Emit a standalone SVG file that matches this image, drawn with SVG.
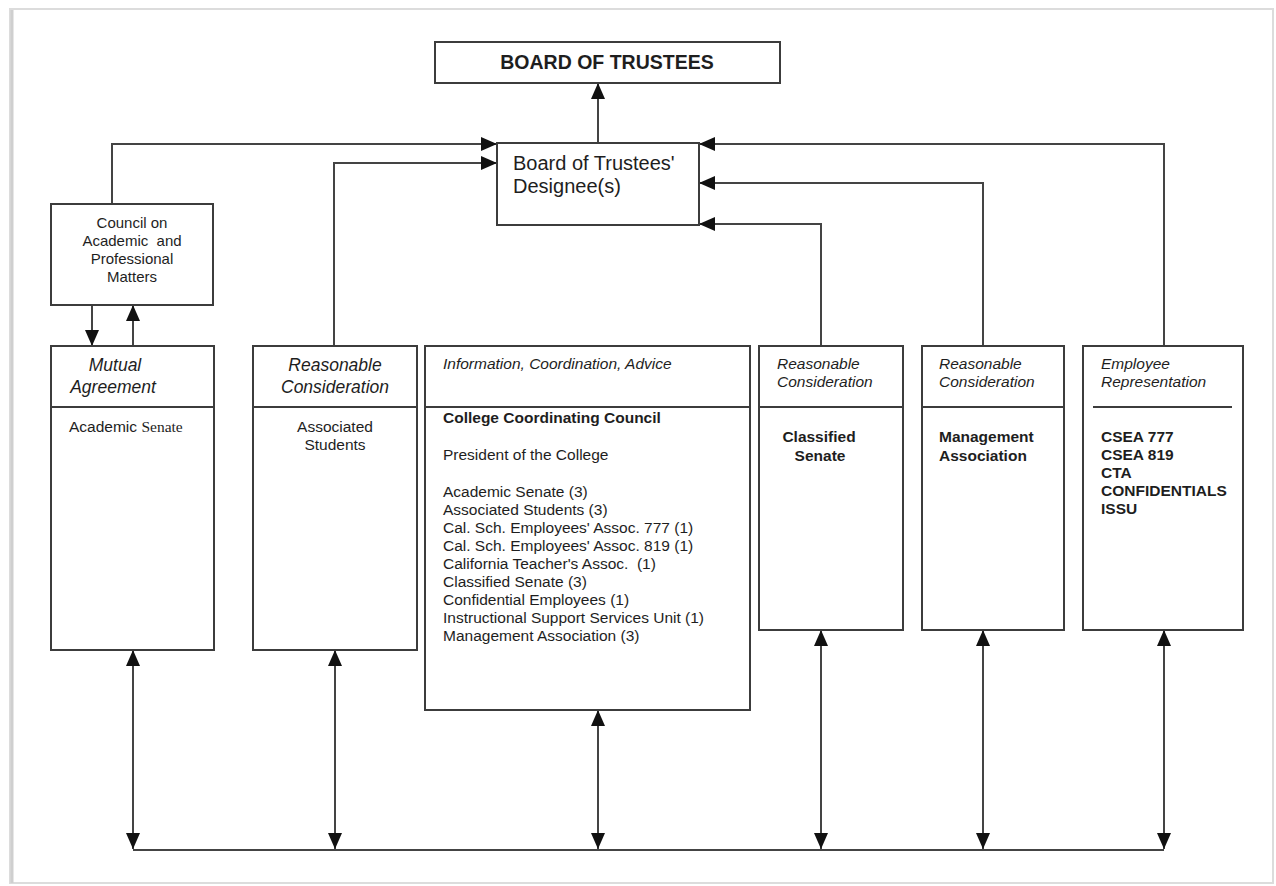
<svg xmlns="http://www.w3.org/2000/svg" width="1276" height="886" viewBox="0 0 1276 886">
<defs>
<marker id="ah" viewBox="0 0 16 14" refX="16" refY="7" markerWidth="16" markerHeight="14" markerUnits="userSpaceOnUse" orient="auto-start-reverse">
<path d="M0,0 L16,7 L0,14 z" fill="#111"/>
</marker>
<style>
.box{fill:#fff;stroke:#3c3c3c;stroke-width:2}
.div{stroke:#3c3c3c;stroke-width:2;fill:none}
.con{stroke:#444;stroke-width:2;fill:none}
.arr{marker-end:url(#ah)}
.both{marker-start:url(#ah);marker-end:url(#ah)}
text{font-family:"Liberation Sans",Arial,sans-serif;fill:#1e1e1e}
.t{font-size:15.5px}
.b{font-size:15.5px;font-weight:bold}
.hL{font-size:17.5px;font-style:italic}
.hR{font-size:15.5px;font-style:italic}
.c{text-anchor:middle}
</style>
</defs>
<rect x="0" y="0" width="1276" height="886" fill="#fff"/>
<rect x="10" y="9" width="1263" height="874" fill="none" stroke="#dcdcdc" stroke-width="2"/>
<line x1="12" y1="10" x2="12" y2="883" stroke="#cfcfcf" stroke-width="3"/>

<g id="connectors">
<path class="con arr" d="M598,143 V83"/>
<path class="con arr" d="M112,204 V144 H497"/>
<path class="con arr" d="M334,346 V163 H497"/>
<path class="con arr" d="M821,346 V224 H699"/>
<path class="con arr" d="M983,346 V183 H699"/>
<path class="con arr" d="M1164,346 V144 H699"/>
<path class="con arr" d="M92,305 V346"/>
<path class="con arr" d="M133,346 V305"/>
<path class="con" d="M133,850 H1164"/>
<path class="con both" d="M133,650 V849"/>
<path class="con both" d="M335,650 V849"/>
<path class="con both" d="M598,710 V849"/>
<path class="con both" d="M821,630 V849"/>
<path class="con both" d="M983,630 V849"/>
<path class="con both" d="M1164,630 V849"/>
</g>

<g id="board">
<rect class="box" x="435" y="42" width="345" height="41"/>
<text x="607" y="69" class="c" style="font-size:19.5px;font-weight:bold">BOARD OF TRUSTEES</text>
</g>

<g id="designee">
<rect class="box" x="497" y="143" width="202" height="82"/>
<text x="513" y="170" style="font-size:20px">Board of Trustees'</text>
<text x="513" y="193" style="font-size:20px">Designee(s)</text>
</g>

<g id="council">
<rect class="box" x="51" y="204" width="162" height="101"/>
<text class="c" x="132" y="228" style="font-size:15px">Council on</text>
<text class="c" x="132" y="246" style="font-size:15px" xml:space="preserve">Academic  and</text>
<text class="c" x="132" y="264" style="font-size:15px">Professional</text>
<text class="c" x="132" y="282" style="font-size:15px">Matters</text>
</g>

<g id="mutual">
<rect class="box" x="51" y="346" width="163" height="304"/>
<line class="div" x1="51" y1="407" x2="214" y2="407"/>
<text class="hL c" x="115" y="371">Mutual</text>
<text class="hL c" x="113" y="393">Agreement</text>
<text class="t" x="69" y="432">Academic <tspan style="font-family:'Liberation Serif','Times New Roman',serif">Senate</tspan></text>
</g>

<g id="students">
<rect class="box" x="253" y="346" width="164" height="304"/>
<line class="div" x1="253" y1="407" x2="417" y2="407"/>
<text class="hL c" x="335" y="371">Reasonable</text>
<text class="hL c" x="335" y="393">Consideration</text>
<text class="t c" x="335" y="432">Associated</text>
<text class="t c" x="335" y="450">Students</text>
</g>

<g id="ccc">
<rect class="box" x="425" y="346" width="325" height="364"/>
<line class="div" x1="425" y1="407" x2="750" y2="407"/>
<text class="hR" x="443" y="369">Information, Coordination, Advice</text>
<text class="b" x="443" y="423">College Coordinating Council</text>
<text class="t" x="443" y="460">President of the College</text>
<text class="t" x="443" y="497">Academic Senate (3)</text>
<text class="t" x="443" y="515">Associated Students (3)</text>
<text class="t" x="443" y="533">Cal. Sch. Employees' Assoc. 777 (1)</text>
<text class="t" x="443" y="551">Cal. Sch. Employees' Assoc. 819 (1)</text>
<text class="t" x="443" y="569" xml:space="preserve">California Teacher's Assoc.  (1)</text>
<text class="t" x="443" y="587">Classified Senate (3)</text>
<text class="t" x="443" y="605">Confidential Employees (1)</text>
<text class="t" x="443" y="623">Instructional Support Services Unit (1)</text>
<text class="t" x="443" y="641">Management Association (3)</text>
</g>

<g id="classified">
<rect class="box" x="759" y="346" width="144" height="284"/>
<line class="div" x1="759" y1="407" x2="903" y2="407"/>
<text class="hR" x="777" y="369">Reasonable</text>
<text class="hR" x="777" y="387">Consideration</text>
<text class="b c" x="819" y="442">Classified</text>
<text class="b c" x="820" y="461">Senate</text>
</g>

<g id="management">
<rect class="box" x="922" y="346" width="142" height="284"/>
<line class="div" x1="922" y1="407" x2="1064" y2="407"/>
<text class="hR" x="939" y="369">Reasonable</text>
<text class="hR" x="939" y="387">Consideration</text>
<text class="b" x="939" y="442">Management</text>
<text class="b" x="939" y="461">Association</text>
</g>

<g id="employee">
<rect class="box" x="1083" y="346" width="160" height="284"/>
<line class="div" x1="1093" y1="407" x2="1232" y2="407"/>
<text class="hR" x="1101" y="369">Employee</text>
<text class="hR" x="1101" y="387">Representation</text>
<text class="b" x="1101" y="442">CSEA 777</text>
<text class="b" x="1101" y="460">CSEA 819</text>
<text class="b" x="1101" y="478">CTA</text>
<text class="b" x="1101" y="496">CONFIDENTIALS</text>
<text class="b" x="1101" y="514">ISSU</text>
</g>
</svg>
